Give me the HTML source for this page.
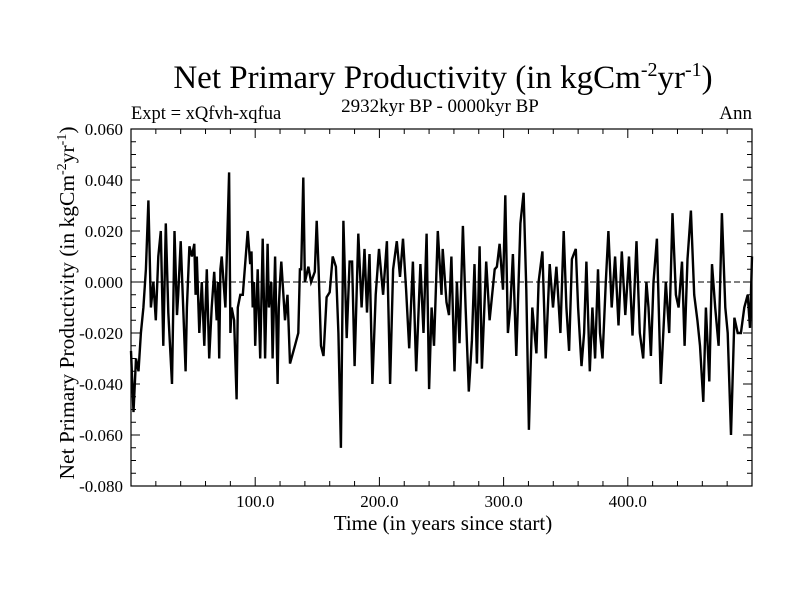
<!DOCTYPE html>
<html><head><meta charset="utf-8">
<style>
body{margin:0;background:#fff;}
svg{display:block;font-family:"Liberation Serif",serif;}
</style></head>
<body>
<svg id="chart" width="800" height="600">
<rect width="800" height="600" fill="#fff"/>
<text x="443" y="88" text-anchor="middle" font-size="33">Net Primary Productivity (in kgCm<tspan dy="-12" font-size="20">-2</tspan><tspan dy="12">yr</tspan><tspan dy="-12" font-size="20">-1</tspan><tspan dy="12">)</tspan></text>
<text x="440" y="112" text-anchor="middle" font-size="19">2932kyr BP - 0000kyr BP</text>
<text x="131" y="119" font-size="18.5">Expt = xQfvh-xqfua</text>
<text x="752" y="119" text-anchor="end" font-size="19">Ann</text>
<text x="443" y="530" text-anchor="middle" font-size="21">Time (in years since start)</text>
<text transform="translate(74,303) rotate(-90)" text-anchor="middle" font-size="21.5">Net Primary Productivity (in kgCm<tspan dy="-8" font-size="14">-2</tspan><tspan dy="8">yr</tspan><tspan dy="-8" font-size="14">-1</tspan><tspan dy="8">)</tspan></text>
<g id="plot"></g>
</svg>
<script>
const years=[0,2,4,6,8,10,12,14,16,18,20,22,24,26,28,30,33,35,37,38,40,44,45,47,49,51,52,53,55,57,59,61,63,65,67,69,70,71,72,73,76,79,80,81,83,85,86,88,90,94,96,97,98,99,100,102,104,106,108,110,111,113,114,116,118,119,120,121,124,126,128,132,134.7,136,137,138.7,140,142.8,145,148,149.5,151,153,155,157.5,160,162.4,165,167,169,171,173.7,176,178,180,183,185.7,188,190,192,194.4,197,199.7,203,206,208.6,211,214,216.6,219,221.5,224,227,229.6,233,235.5,238,240,242,244,247,250,251,254,256,258,260.5,262.4,264.5,267.2,269.4,272,274.5,276.6,278.5,280.7,282.5,286,288.7,292.8,294.6,296.8,299.5,301.4,303.5,305.4,307.5,310.2,313.5,316.1,318.3,320.4,323.1,326.4,328.2,331.2,333.9,337.1,339.8,342.5,345.7,348.4,350.6,352.7,355,358.1,360,362.7,364.8,366.7,369.4,371.5,373.7,376,377.6,379.6,382.3,384.4,387,389.8,392.5,395.2,398,401,403.8,407,409.7,412.4,415,416.7,418.6,420.7,423.4,426.6,430.6,433.3,436,438.7,440.9,443.6,445.7,448.1,450.8,453.5,456,458.1,460.8,462.9,465.6,467.8,470.4,473.1,475.8,478.5,480.4,483.1,485.8,488.5,491.1,493.8,496.5,498.4,500];
const values=[-0.027,-0.051,-0.030,-0.035,-0.020,-0.010,0.005,0.032,-0.010,0.000,-0.015,0.010,0.020,-0.025,0.023,-0.012,-0.040,0.020,-0.013,-0.005,0.016,-0.035,-0.010,0.014,0.010,0.015,-0.005,0.010,-0.020,0.000,-0.025,0.005,-0.030,-0.010,0.004,-0.015,0.000,-0.030,0.005,0.010,-0.010,0.043,-0.020,-0.010,-0.015,-0.046,-0.010,-0.005,-0.005,0.020,0.007,0.012,-0.010,0.000,-0.025,0.005,-0.030,0.017,-0.030,0.015,-0.010,0.000,-0.030,0.010,-0.040,-0.010,0.000,0.008,-0.015,-0.005,-0.032,-0.025,-0.020,0.005,0.005,0.041,0.000,0.006,0.000,0.004,0.024,0.006,-0.025,-0.029,-0.006,-0.004,0.010,0.006,-0.020,-0.065,0.024,-0.022,0.008,0.008,-0.033,0.019,-0.010,0.013,-0.012,0.011,-0.040,-0.005,0.013,-0.005,0.016,-0.040,0.005,0.016,0.002,0.017,-0.003,-0.026,0.008,-0.035,0.007,-0.020,0.019,-0.042,-0.010,-0.025,0.020,-0.005,0.013,-0.008,-0.013,0.010,-0.035,0.000,-0.024,0.022,-0.010,-0.043,-0.023,0.007,-0.032,0.014,-0.034,0.008,-0.015,0.005,0.006,0.015,-0.003,0.034,-0.020,-0.010,0.011,-0.029,0.023,0.035,-0.003,-0.058,-0.010,-0.028,0.000,0.012,-0.030,0.007,-0.010,0.006,-0.020,0.020,-0.010,-0.027,0.009,0.013,-0.010,-0.033,-0.020,0.008,-0.035,-0.010,-0.030,0.005,-0.020,-0.030,0.000,0.020,-0.010,0.010,-0.017,0.012,-0.013,0.010,-0.021,0.016,-0.020,-0.030,0.000,-0.010,-0.029,0.000,0.017,-0.040,0.000,-0.020,0.027,-0.005,-0.010,0.008,-0.025,0.009,0.028,-0.005,-0.015,-0.025,-0.047,-0.010,-0.039,0.007,-0.010,-0.025,0.027,-0.010,-0.020,-0.060,-0.014,-0.020,-0.020,-0.010,-0.005,-0.018,0.010,0.000,-0.030];
const yTicks=[0.060,0.040,0.020,0.000,-0.020,-0.040,-0.060,-0.080];
const yTickLabels=["0.060","0.040","0.020","0.000","-0.020","-0.040","-0.060","-0.080"];
const xTicks=[100,200,300,400];
const xTickLabels=["100.0","200.0","300.0","400.0"];

const L=131,R=752,T=129,B=486,X0=0,X1=500,Y0=-0.08,Y1=0.06;
const NS='http://www.w3.org/2000/svg';
const g=document.getElementById('plot');
function sx(v){return L+(v-X0)/(X1-X0)*(R-L);}
function sy(v){return B-(v-Y0)/(Y1-Y0)*(B-T);}
function mk(t,a){const e=document.createElementNS(NS,t);for(const k in a)e.setAttribute(k,a[k]);g.appendChild(e);return e;}

let z=mk('line',{x1:L,x2:R,y1:sy(0),y2:sy(0),stroke:'#000','stroke-width':1,'stroke-dasharray':'6,3'});



let d='';
for(let i=0;i<years.length;i++){d+=(i?'L':'M')+sx(years[i]).toFixed(1)+','+sy(values[i]).toFixed(1);}
let p=mk('path',{d:d,fill:'none',stroke:'#000','stroke-width':2.4,'stroke-linejoin':'miter'});



let f=mk('rect',{x:L,y:T,width:R-L,height:B-T,fill:'none',stroke:'#000','stroke-width':1.2});



for(let v=Y0;v<=Y1+1e-9;v+=0.005){
  const y=sy(v);const major=Math.abs(Math.round(v*1000)%20)===0;
  const len=major?9:5;
  let t1=mk('line',{x1:L,x2:L+len,y1:y,y2:y,stroke:'#000','stroke-width':1});
  
  
  let t2=mk('line',{x1:R,x2:R-len,y1:y,y2:y,stroke:'#000','stroke-width':1});
  
  
}
yTicks.forEach((v,i)=>{
  let t=mk('text',{x:L-8,y:sy(v)+6,'text-anchor':'end','font-size':17});
  t.textContent=yTickLabels[i];
  
  
});
for(let v=20;v<X1;v+=20){
  const major=v%100===0;const len=major?9:5;
  let t1=mk('line',{x1:sx(v),x2:sx(v),y1:B,y2:B-len,stroke:'#000','stroke-width':1});
  
  
  let t2=mk('line',{x1:sx(v),x2:sx(v),y1:T,y2:T+len,stroke:'#000','stroke-width':1});
  
  
}
xTicks.forEach((v,i)=>{
  let t=mk('text',{x:sx(v),y:B+21,'text-anchor':'middle','font-size':17});
  t.textContent=xTickLabels[i];
  
  
});
</script>
</body></html>
